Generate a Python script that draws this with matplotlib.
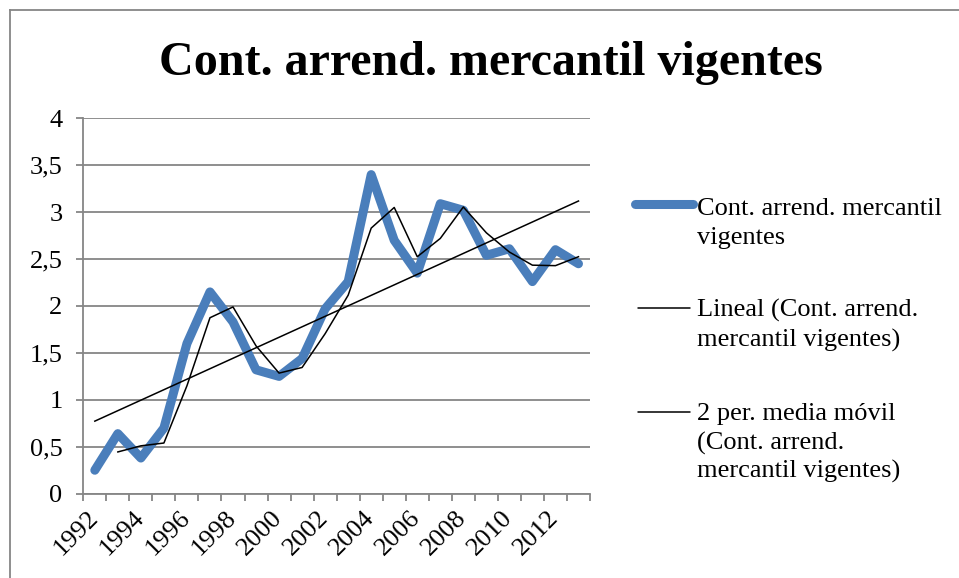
import numpy as np
import matplotlib
matplotlib.use("Agg")
import matplotlib.pyplot as plt
from matplotlib.lines import Line2D

plt.rcParams['font.family'] = ['Liberation Serif', 'DejaVu Serif']

years = list(range(1992, 2014))
contratos = [0.25, 0.64, 0.38, 0.70, 1.60, 2.15, 1.83, 1.32, 1.25, 1.44, 1.97,
             2.26, 3.40, 2.70, 2.35, 3.09, 3.02, 2.54, 2.61, 2.26, 2.60, 2.45]
tick_labels = [str(y) for y in years[::2]]
y_ticks = [0, 0.5, 1, 1.5, 2, 2.5, 3, 3.5, 4]
y_tick_labels = ['0', '0,5', '1', '1,5', '2', '2,5', '3', '3,5', '4']

title = 'Cont. arrend. mercantil vigentes'
legend_lines = [
    ['Cont. arrend. mercantil', 'vigentes'],
    ['Lineal (Cont. arrend.', 'mercantil vigentes)'],
    ['2 per. media móvil', '(Cont. arrend.', 'mercantil vigentes)'],
]

W, H = 959, 578
fig = plt.figure(figsize=(W / 100, H / 100), dpi=100)

def fx(px):
    return px / W

def fy(py):
    return 1 - py / H

ax = fig.add_axes([fx(83.3), fy(493.7), fx(590) - fx(83.3), fy(118.3) - fy(493.7)])

x = np.arange(len(years))
vals = np.array(contratos)

grid_c = '#868686'
blue = '#4A7EBB'
fs = 19

# main series
ax.plot(x, vals, color=blue, lw=6.5, solid_capstyle='round',
        solid_joinstyle='round', zorder=3)

# linear trend
coef = np.polyfit(x, vals, 1)
ax.plot(x, np.polyval(coef, x), color='black', lw=1.1, zorder=4)

# 2-period moving average
ma = (vals[1:] + vals[:-1]) / 2
ax.plot(x[1:], ma, color='black', lw=1.1, zorder=4)

ax.set_xlim(-0.5, len(years) - 0.5)
ax.set_ylim(0, 4)
ax.set_yticks(y_ticks)
ax.set_yticklabels(y_tick_labels, fontsize=fs)
ax.yaxis.grid(True, color=grid_c, lw=1.3)
ax.set_axisbelow(True)

# boundaries between categories carry the tick marks
ax.set_xticks(np.arange(-0.5, len(years), 1.0))
ax.set_xticklabels([])
ax.set_xticks(x[::2], minor=True)
ax.set_xticklabels(tick_labels, minor=True, fontsize=fs, rotation=45,
                   ha='right', va='center', rotation_mode='anchor')
ax.tick_params(axis='x', which='major', length=5, width=1.3, color=grid_c,
               direction='out')
ax.tick_params(axis='x', which='minor', length=0, pad=15)
ax.tick_params(axis='y', length=5, width=1.3, color=grid_c, pad=10)

for s in ['top', 'right']:
    ax.spines[s].set_visible(False)
for s in ['left', 'bottom']:
    ax.spines[s].set_color(grid_c)
    ax.spines[s].set_linewidth(1.3)

# chart frame
fig.add_artist(Line2D([fx(10), 1], [fy(10), fy(10)], color=grid_c, lw=1.3))
fig.add_artist(Line2D([fx(10), fx(10)], [fy(10), 0], color=grid_c, lw=1.3))

fig.text(fx(491), fy(75), title, fontsize=34.6, fontweight='bold',
         ha='center', va='baseline')

# legend
samples = [(204, blue, 6.5, 635, 693), (308, 'black', 1.1, 638, 690),
           (412, 'black', 1.1, 638, 690)]
baselines = [[215, 243.5], [317, 347], [420, 449.5, 478]]
for (sy, c, lw, x0, x1), lines, bases in zip(samples, legend_lines, baselines):
    fig.add_artist(Line2D([fx(x0), fx(x1)], [fy(sy), fy(sy)], color=c, lw=lw,
                          solid_capstyle='round'))
    for t, b in zip(lines, bases):
        fig.text(fx(697), fy(b), t, fontsize=fs, ha='left', va='baseline')

fig.savefig('out.png', dpi=100)
